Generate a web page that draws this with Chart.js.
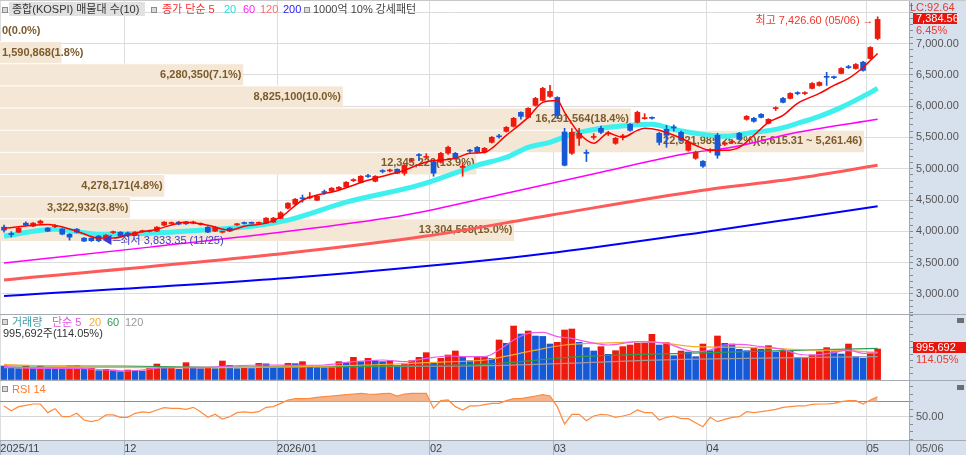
<!DOCTYPE html>
<html lang="ko">
<head>
<meta charset="utf-8">
<title>KOSPI</title>
<script src="https://cdn.jsdelivr.net/npm/chart.js@4.4.1/dist/chart.umd.min.js"></script>
<style>
  html, body { margin: 0; padding: 0; background: #fff; }
  #wrap { position: relative; width: 966px; height: 455px; overflow: hidden;
          font-family: 'Liberation Sans', 'Noto Sans CJK KR', sans-serif; font-size: 11px; }
  #wrap canvas { position: absolute; left: 0; }
  .bg { position: absolute; background: #d7e1ee; }
  .ln { position: absolute; background: #a4aab2; z-index: 4; }
  .t { position: absolute; white-space: nowrap; line-height: 12px; z-index: 5; }
  .ic { position: absolute; width: 4px; height: 4px; border: 1px solid #8c8c8c; background: #dadada; z-index: 5; }
  .box { position: absolute; background: #e8150c; color: #fff; z-index: 5; line-height: 11px; padding-left: 3px; white-space: nowrap; }
</style>
</head>
<body>
<div id="wrap">
  <div class="bg" style="left:909px;top:0;width:57px;height:455px"></div>
  <div class="bg" style="left:0;top:440px;width:909px;height:15px"></div>

  <canvas id="price" width="966" height="314" style="top:0"></canvas>
  <canvas id="vol" width="966" height="65" style="top:315px"></canvas>
  <canvas id="rsi" width="966" height="74" style="top:381px"></canvas>

  <div class="ln" style="left:0;top:314px;width:966px;height:1px"></div>
  <div class="ln" style="left:0;top:380px;width:966px;height:1px"></div>
  <div class="ln" style="left:0;top:440px;width:966px;height:1px"></div>
  <div class="ln" style="left:909px;top:0;width:1px;height:455px"></div>
  <div class="ln" style="left:0;top:0;width:966px;height:1px;background:#c9c9c9"></div>

  <!-- price legend -->
  <div class="ic" style="left:2px;top:7px"></div>
  <div class="t" style="left:9px;top:2px;width:136px;height:14px;background:#e1e1e1;z-index:4"></div>
  <div class="t" style="left:12px;top:3px;color:#333">종합(KOSPI) 매물대 수(10)</div>
  <div class="ic" style="left:151px;top:7px"></div>
  <div class="t" style="left:162px;top:3px;color:#ff2b2b">종가 단순 5</div>
  <div class="t" style="left:224px;top:3px;color:#22dede">20</div>
  <div class="t" style="left:243px;top:3px;color:#ff22ff">60</div>
  <div class="t" style="left:260px;top:3px;color:#ff6c6c">120</div>
  <div class="t" style="left:283px;top:3px;color:#2424ff">200</div>
  <div class="ic" style="left:304px;top:7px"></div>
  <div class="t" style="left:313px;top:3px;color:#444">1000억 10% 강세패턴</div>

  <!-- volume legend -->
  <div class="ic" style="left:2px;top:319px"></div>
  <div class="t" style="left:12px;top:316px;color:#3e9ea8">거래량</div>
  <div class="t" style="left:52px;top:316px;color:#e052e0">단순 5</div>
  <div class="t" style="left:89px;top:316px;color:#f0ac2c">20</div>
  <div class="t" style="left:107px;top:316px;color:#2f9a52">60</div>
  <div class="t" style="left:125px;top:316px;color:#9a9a9a">120</div>
  <div class="t" style="left:3px;top:327px;color:#333">995,692주(114.05%)</div>

  <!-- rsi legend -->
  <div class="ic" style="left:2px;top:386px"></div>
  <div class="t" style="left:12px;top:383px;color:#ff7a2c">RSI 14</div>

  <!-- right axis labels -->
  <div class="t" style="left:910px;top:1px;color:#e8372c">LC:92.64</div>
  <div class="box" style="left:913px;top:13px;width:41px;height:11px">7,384.56</div>
  <div class="t" style="left:916px;top:24px;color:#ee3b30">6.45%</div>
  <div class="box" style="left:913px;top:342px;width:50px;height:11px">995,692</div>
  <div class="t" style="left:916px;top:353px;color:#ee3b30">114.05%</div>
  <div class="t" style="left:957px;top:318px;width:7px;height:5px;background:#6e6e6e"></div>
  <div class="t" style="left:957px;top:385px;width:7px;height:5px;background:#6e6e6e"></div>
  <div class="t" style="left:916px;top:442px;color:#555">05/06</div>
</div>

<script>
const monthTicks = [-0.5, 16.5, 37.5, 58.5, 75.5, 96.5, 118.5];
const monthLabels = ['2025/11', '12', '2026/01', '02', '03', '04', '05'];
const highDate = '05/06';
const lowDate = '11/25';

// daily candles, 2025-11-06 .. 2026-05-06
const opens = [
  4067, 3962, 3987, 4131, 4083, 4131, 4051, 4075, 4035, 3955,
  4035, 3892, 3890, 3924, 3892, 3980, 3987, 3975, 3939, 3995,
  4000, 4003, 4099, 4125, 4147, 4150, 4131, 4110, 4067, 4003,
  3985, 4051, 4105, 4135, 4135, 4128, 4131, 4147, 4206, 4370,
  4434, 4530, 4535, 4497, 4630, 4641, 4673, 4705, 4810, 4784,
  4885, 4800, 4965, 4965, 4992, 4928, 5130, 5220, 5180, 5105,
  5105, 5250, 5247, 5020, 5290, 5342, 5263, 5422, 5520, 5597,
  5677, 5900, 5820, 6012, 6091, 6155, 6139, 5586, 5247, 5486,
  5255, 5500, 5645, 5560, 5406, 5510, 5709, 5741, 5800, 5815,
  5565, 5630, 5670, 5581, 5294, 5167, 5119, 5285, 5534, 5390,
  5420, 5565, 5789, 5805, 5868, 5725, 5960, 6123, 6123, 6210,
  6200, 6283, 6330, 6470, 6465, 6522, 6625, 6601, 6702, 6760,
  7080
];
const highs = [
  4099, 3995, 4060, 4150, 4140, 4180, 4060, 4110, 4045, 3965,
  4045, 3900, 3900, 3935, 3950, 4005, 3995, 3990, 3995, 4020,
  4020, 4075, 4155, 4150, 4160, 4160, 4163, 4135, 4075, 4075,
  4005, 4060, 4130, 4150, 4150, 4150, 4220, 4225, 4315, 4460,
  4525, 4580, 4620, 4570, 4660, 4700, 4715, 4795, 4840, 4890,
  4910, 4890, 4985, 4995, 5000, 5065, 5160, 5240, 5240, 5140,
  5260, 5360, 5260, 5090, 5310, 5355, 5340, 5515, 5550, 5675,
  5820, 5910, 5975, 6140, 6300, 6330, 6150, 5645, 5640, 5645,
  5300, 5560, 5680, 5600, 5500, 5550, 5720, 5920, 5880, 5830,
  5580, 5693, 5700, 5600, 5440, 5280, 5130, 5320, 5566, 5430,
  5450, 5580, 5850, 5820, 5880, 5800, 5990, 6140, 6215, 6230,
  6230, 6375, 6390, 6540, 6480, 6615, 6650, 6680, 6715, 6950,
  7426.60
];
const lows = [
  3987, 3910, 3980, 4085, 4075, 4120, 3995, 4060, 3945, 3860,
  3975, 3838, 3840, 3833.35, 3880, 3965, 3915, 3915, 3930, 3985,
  3990, 3995, 4090, 4115, 4105, 4110, 4120, 4100, 3980, 3995,
  3975, 3995, 4095, 4115, 4118, 4118, 4125, 4140, 4200, 4360,
  4425, 4465, 4520, 4490, 4590, 4630, 4665, 4700, 4795, 4775,
  4860, 4790, 4935, 4950, 4920, 4896, 5115, 5130, 5170, 4880,
  5090, 5230, 5150, 4880, 5260, 5250, 5250, 5410, 5490, 5585,
  5665, 5790, 5810, 6000, 6080, 6140, 5800, 5044, 5230, 5374,
  5115, 5470, 5560, 5530, 5390, 5460, 5600, 5730, 5790, 5790,
  5380, 5342, 5600, 5440, 5280, 5150, 5020, 5260, 5167, 5370,
  5400, 5460, 5775, 5745, 5810, 5715, 5930, 6050, 6115, 6180,
  6185, 6275, 6320, 6330, 6440, 6515, 6600, 6590, 6560, 6750,
  7060
];
const closes = [
  4019, 3950, 4051, 4099, 4131, 4163, 4003, 4085, 3955, 3908,
  3987, 3844, 3850, 3850, 3939, 3990, 3924, 3935, 3987, 4005,
  4010, 4067, 4147, 4135, 4115, 4120, 4150, 4120, 3987, 4067,
  3995, 4003, 4115, 4125, 4128, 4135, 4211, 4211, 4296, 4450,
  4513, 4520, 4545, 4561, 4620, 4689, 4705, 4784, 4820, 4880,
  4875, 4880, 4955, 4975, 4928, 5055, 5140, 5210, 5190, 4929,
  5247, 5342, 5167, 5040, 5280, 5263, 5326, 5502, 5510, 5661,
  5805, 5836, 5964, 6123, 6283, 6235, 5852, 5055, 5581, 5565,
  5245, 5510, 5581, 5570, 5486, 5520, 5613, 5900, 5810, 5805,
  5422, 5533, 5650, 5454, 5427, 5263, 5040, 5295, 5215, 5410,
  5430, 5470, 5836, 5757, 5820, 5789, 5970, 6060, 6203, 6200,
  6210, 6362, 6378, 6460, 6455, 6601, 6615, 6665, 6570, 6937,
  7384.56
];

// price moving averages, read as [bar, value]
const ma5 = [[0,4051],[6,4110],[10,4003],[13,3892],[15,3892],[18,3971],[21,4035],[25,4147],[28,4099],[31,4019],
  [33,4083],[36,4131],[38,4226],[41,4497],[46,4657],[50,4816],[55,4976],[58,5108],[62,5167],[64,5247],[66,5263],
  [69,5534],[72,5820],[74,6060],[76,6091],[77,5900],[79,5565],[81,5406],[83,5565],[85,5502],[87,5613],[88,5645],
  [90,5613],[93,5486],[95,5374],[97,5294],[99,5294],[101,5342],[103,5534],[105,5741],[107,5852],[109,6044],
  [112,6203],[114,6330],[116,6442],[118,6617],[119,6729],[120,6841]];
const ma20 = [[0,3924],[7,4035],[13,3955],[20,3971],[27,4019],[34,4083],[39,4179],[47,4466],[57,4737],[65,5055],
  [69,5183],[72,5342],[75,5422],[78,5549],[82,5645],[86,5693],[89,5709],[92,5629],[95,5566],[99,5518],[103,5581],
  [106,5629],[109,5725],[112,5836],[115,5980],[118,6155],[120,6283]];
const ma60 = [[0,3493],[20,3748],[39,4003],[55,4258],[69,4609],[82,4944],[94,5247],[100,5342],[109,5581],[120,5789]];
const ma120 = [[0,3222],[39,3653],[58,3924],[75,4258],[96,4657],[109,4848],[120,5055]];
const ma200 = [[0,2967],[39,3254],[58,3445],[76,3668],[96,3987],[109,4210],[120,4402]];

// volume
const volume = [
  450000, 375000, 365000, 450000, 375000, 450000, 396000, 390000, 385000, 450000,
  455000, 343000, 407000, 300000, 343000, 321000, 268000, 321000, 300000, 290000,
  375000, 514000, 396000, 407000, 343000, 557000, 407000, 364000, 407000, 364000,
  610000, 471000, 364000, 375000, 370000, 535000, 520000, 428000, 420000, 535000,
  525000, 589000, 428000, 396000, 390000, 396000, 589000, 557000, 728000, 589000,
  696000, 621000, 589000, 621000, 460000, 535000, 621000, 728000, 878000, 557000,
  696000, 803000, 932000, 749000, 621000, 728000, 745000, 696000, 1285000, 1178000,
  1734000, 1478000, 1574000, 1413000, 1400000, 1156000, 1210000, 1606000, 1638000, 1210000,
  1039000, 932000, 1071000, 824000, 942000, 1071000, 1124000, 1178000, 1185000, 1467000,
  1124000, 1199000, 782000, 932000, 899000, 749000, 1156000, 942000, 1413000, 1178000,
  1156000, 985000, 942000, 1039000, 985000, 1103000, 899000, 932000, 942000, 696000,
  705000, 803000, 910000, 1039000, 910000, 835000, 1156000, 749000, 696000, 873000,
  995692
];
const vma5 = [[0,428000],[5,375000],[10,375000],[14,321000],[17,289000],[19,321000],[22,396000],[27,396000],
  [31,450000],[36,482000],[40,471000],[44,482000],[48,589000],[52,642000],[55,589000],[58,696000],[61,771000],
  [64,749000],[66,750000],[68,964000],[70,1285000],[72,1499000],[74,1531000],[76,1392000],[78,1338000],
  [80,1231000],[83,1124000],[87,1231000],[91,1178000],[93,1017000],[95,910000],[97,964000],[99,1124000],
  [101,1146000],[104,1071000],[107,985000],[109,835000],[111,803000],[114,878000],[116,964000],[118,857000],[120,870000]];
const vma20 = [[0,503000],[10,420000],[20,400000],[30,400000],[40,420000],[50,482000],[58,556000],[64,610000],
  [66,642000],[72,910000],[77,1124000],[84,1199000],[88,1231000],[91,1178000],[95,1071000],[102,1049000],
  [111,964000],[116,942000],[120,889000]];
const vma60 = [[0,450000],[16,450000],[30,400000],[45,428000],[60,471000],[66,503000],[79,749000],[93,857000],
  [107,942000],[120,1017000]];
const vma120 = [[0,396000],[40,428000],[66,460000],[93,664000],[120,749000]];

// RSI 14
const rsi = [
  64.7, 58.4, 63.8, 65.6, 67.3, 67.3, 55.8, 61.1, 50.4, 50.4,
  54.9, 46.0, 43.8, 46.0, 52.7, 52.7, 49.6, 49.6, 54.9, 56.7,
  55.8, 59.3, 62.4, 61.6, 61.6, 60.2, 62.9, 57.1, 49.6, 53.6,
  47.3, 50.4, 55.8, 56.7, 55.8, 57.1, 62.9, 63.8, 68.2, 72.7,
  74.4, 74.4, 74.9, 76.2, 77.1, 78.0, 78.9, 79.8, 80.7, 81.6,
  80.7, 80.2, 81.1, 81.6, 78.0, 80.7, 81.6, 81.6, 81.6, 61.6,
  71.8, 72.7, 63.8, 59.3, 64.7, 64.7, 66.4, 68.2, 68.2, 71.8,
  74.4, 74.4, 76.2, 78.0, 79.8, 78.0, 63.8, 40.7, 53.6, 53.6,
  45.1, 51.3, 53.6, 52.7, 49.6, 51.3, 53.6, 59.3, 55.8, 55.8,
  46.0, 49.6, 51.3, 47.8, 47.8, 42.4, 37.1, 49.6, 43.8, 46.9,
  49.6, 50.4, 57.1, 55.8, 57.1, 58.4, 60.2, 62.9, 63.8, 64.7,
  64.7, 66.9, 67.3, 67.3, 68.2, 70.4, 71.8, 71.8, 67.3, 72.7,
  77.1
];

// volume profile (10 price bands, bottom to top)
const vpLow = [3846.06, 4199.91, 4553.76, 4907.61, 5261.46, 5615.31, 5969.16, 6323.01, 6676.86, 7030.71];
const vpHigh = [4199.91, 4553.76, 4907.61, 5261.46, 5615.31, 5969.16, 6323.01, 6676.86, 7030.71, 7384.56];
const vpVolume = [13304568, 3322932, 4278171, 12345229, 22321985, 16291564, 8825100, 6280350, 1590868, 0];
const vpPct = [15.0, 3.8, 4.8, 13.9, 25.2, 18.4, 10.0, 7.1, 1.8, 0.0];

const RED = '#ee1a0e';
const BLUE = '#1559d6';
const FONT = "'Liberation Sans', 'Noto Sans CJK KR', sans-serif";
const X_MIN = -0.55, X_MAX = 124.31;
const P_MIN = 2680, P_MAX = 7694.7;

Chart.defaults.font.family = FONT;
Chart.defaults.font.size = 11;
Chart.defaults.color = '#555';
Chart.defaults.animation = false;

const fmt2 = v => v.toLocaleString('en-US', { minimumFractionDigits: 2, maximumFractionDigits: 2 });
const clear = 'rgba(0,0,0,0)';
const idx = arr => arr.map((v, i) => i);

function noPad(s) {
  s.paddingTop = 0; s.paddingBottom = 0; s.paddingLeft = 0; s.paddingRight = 0;
}

function xScale(showLabels) {
  return {
    type: 'linear', min: X_MIN, max: X_MAX, offset: false,
    afterBuildTicks: s => { s.ticks = monthTicks.map(v => ({ value: v })); },
    afterFit: s => { s.height = showLabels ? 15 : 0; noPad(s); },
    grid: { offset: false, color: '#dedede', drawTicks: showLabels, tickLength: 15, tickColor: '#a9b5c3' },
    border: { display: false },
    ticks: { display: showLabels, autoSkip: false, maxRotation: 0, align: 'start', padding: -13,
             color: '#444', callback: (v, i) => monthLabels[i] }
  };
}

function yScale(min, max, step, gridColor, label) {
  return {
    type: 'linear', position: 'right', min: min, max: max,
    afterFit: s => { s.width = 57; noPad(s); },
    border: { display: false },
    grid: { color: c => gridColor(Math.round(c.tick.value)), tickColor: '#7f8b99', tickLength: 4 },
    ticks: { stepSize: step, autoSkip: false, includeBounds: false, padding: 3, color: '#555',
             callback: v => label(Math.round(v)) }
  };
}

function maLine(points, color, width, order) {
  return {
    type: 'line', data: points.map(p => ({ x: p[0], y: p[1] })),
    borderColor: color, borderWidth: width, pointRadius: 0,
    cubicInterpolationMode: 'monotone', order: order
  };
}

const baseOpts = {
  responsive: false,
  events: [],
  layout: { padding: 0, autoPadding: false },
  plugins: { legend: { display: false }, tooltip: { enabled: false } }
};

// volume profile bands: filled from each band's top edge down to its bottom price
const bandSets = vpPct.map((p, i) => ({
  type: 'line', xAxisID: 'vp',
  data: [{ x: 0, y: vpHigh[i] }, { x: p, y: vpHigh[i] }],
  borderColor: '#ffffff', borderWidth: 1, pointRadius: 0,
  backgroundColor: '#f5e7d5',
  fill: { target: { value: vpLow[i] } },
  order: 10
}));

const bandLabels = {
  id: 'bandLabels',
  afterDatasetDraw(chart, args) {
    if (args.index !== 0) return;
    const { ctx, scales: { vp, y } } = chart;
    const top = vpPct.indexOf(Math.max(...vpPct));
    ctx.save();
    ctx.font = 'bold 11px ' + FONT;
    ctx.fillStyle = '#7b5b2b';
    ctx.textBaseline = 'middle';
    ctx.textAlign = 'right';
    vpPct.forEach((p, i) => {
      let txt = vpVolume[i].toLocaleString('en-US') + '(' + p.toFixed(1) + '%)';
      if (i === top) txt += '(' + fmt2(vpHigh[i]) + ' ~ ' + fmt2(vpLow[i]) + ')';
      const w = ctx.measureText(txt).width;
      ctx.fillText(txt, Math.max(vp.getPixelForValue(p) - 2, w + 2), y.getPixelForValue((vpLow[i] + vpHigh[i]) / 2));
    });
    ctx.restore();
  }
};

const extremes = {
  id: 'extremes',
  afterDatasetsDraw(chart) {
    const { ctx, scales: { x, y } } = chart;
    const hi = highs.indexOf(Math.max(...highs));
    const lo = lows.indexOf(Math.min(...lows));
    ctx.save();
    ctx.font = '11px ' + FONT;
    ctx.textBaseline = 'middle';
    ctx.textAlign = 'right';
    ctx.fillStyle = '#f0352b';
    ctx.fillText('최고 ' + fmt2(highs[hi]) + ' (' + highDate + ') →',
                 x.getPixelForValue(hi) - 4, y.getPixelForValue(highs[hi]) + 4);
    ctx.textAlign = 'left';
    ctx.fillStyle = '#3a3ad4';
    ctx.fillText('◀─최저 ' + fmt2(lows[lo]) + ' (' + lowDate + ')',
                 x.getPixelForValue(lo) + 3, y.getPixelForValue(lows[lo]) - 1);
    ctx.restore();
  }
};

const candleColor = c => closes[c.dataIndex] >= opens[c.dataIndex] ? RED : BLUE;

// price panel
new Chart(document.getElementById('price'), {
  type: 'bar',
  data: {
    datasets: [
      ...bandSets,
      { data: idx(closes).map(i => ({ x: i, y: [lows[i], highs[i]] })),
        backgroundColor: candleColor, barThickness: 1, grouped: false, order: 2 },
      { data: idx(closes).map(i => ({ x: i, y: [opens[i], closes[i]] })),
        backgroundColor: candleColor, barThickness: 5, minBarLength: 1, grouped: false, order: 1 },
      maLine(ma5, '#ff0000', 1.5, 0),
      maLine(ma20, '#3ef0ee', 5, 4),
      maLine(ma60, '#ff00ff', 1.5, 3),
      maLine(ma120, '#ff5a5a', 3, 3),
      maLine(ma200, '#0000ff', 2, 3)
    ]
  },
  options: {
    ...baseOpts,
    scales: {
      x: xScale(false),
      vp: { type: 'linear', display: false, offset: false, grid: { offset: false }, min: 0, max: 26.51 },
      y: yScale(P_MIN, P_MAX, 100,
                v => v % 500 === 0 ? '#dcdcdc' : clear,
                v => (v % 500 === 0 && v >= 3000 && v <= 7000) ? fmt2(v) : '')
    }
  },
  plugins: [bandLabels, extremes]
});

// volume panel
new Chart(document.getElementById('vol'), {
  type: 'bar',
  data: {
    datasets: [
      { data: idx(volume).map(i => ({ x: i, y: volume[i] })),
        backgroundColor: c => (c.dataIndex > 0 && volume[c.dataIndex] > volume[c.dataIndex - 1]) ? RED : BLUE,
        barThickness: 6, order: 5 },
      maLine(vma5, '#ee5aee', 1.2, 1),
      maLine(vma20, '#f5ad2e', 1.2, 2),
      maLine(vma60, '#2e9c4e', 1.2, 3),
      maLine(vma120, '#9c9c9c', 1.2, 4)
    ]
  },
  options: {
    ...baseOpts,
    scales: {
      x: xScale(false),
      y: yScale(0, 2087742, 200000, v => v === 1000000 ? '#dcdcdc' : clear, () => '')
    }
  }
});

// RSI panel with the date axis
new Chart(document.getElementById('rsi'), {
  type: 'line',
  data: {
    datasets: [{
      data: idx(rsi).map(i => ({ x: i, y: rsi[i] })),
      borderColor: '#ff8a3d', borderWidth: 1.2, pointRadius: 0, tension: 0,
      fill: { target: { value: 70 }, above: 'rgba(242,160,112,0.8)', below: clear }
    }]
  },
  options: {
    ...baseOpts,
    scales: {
      x: xScale(true),
      y: yScale(19.33, 98, 10,
                v => v === 70 ? '#8e8e8e' : (v === 50 ? '#d6d6d6' : clear),
                v => v === 50 ? '50.00' : '')
    }
  }
});
</script>
</body>
</html>
